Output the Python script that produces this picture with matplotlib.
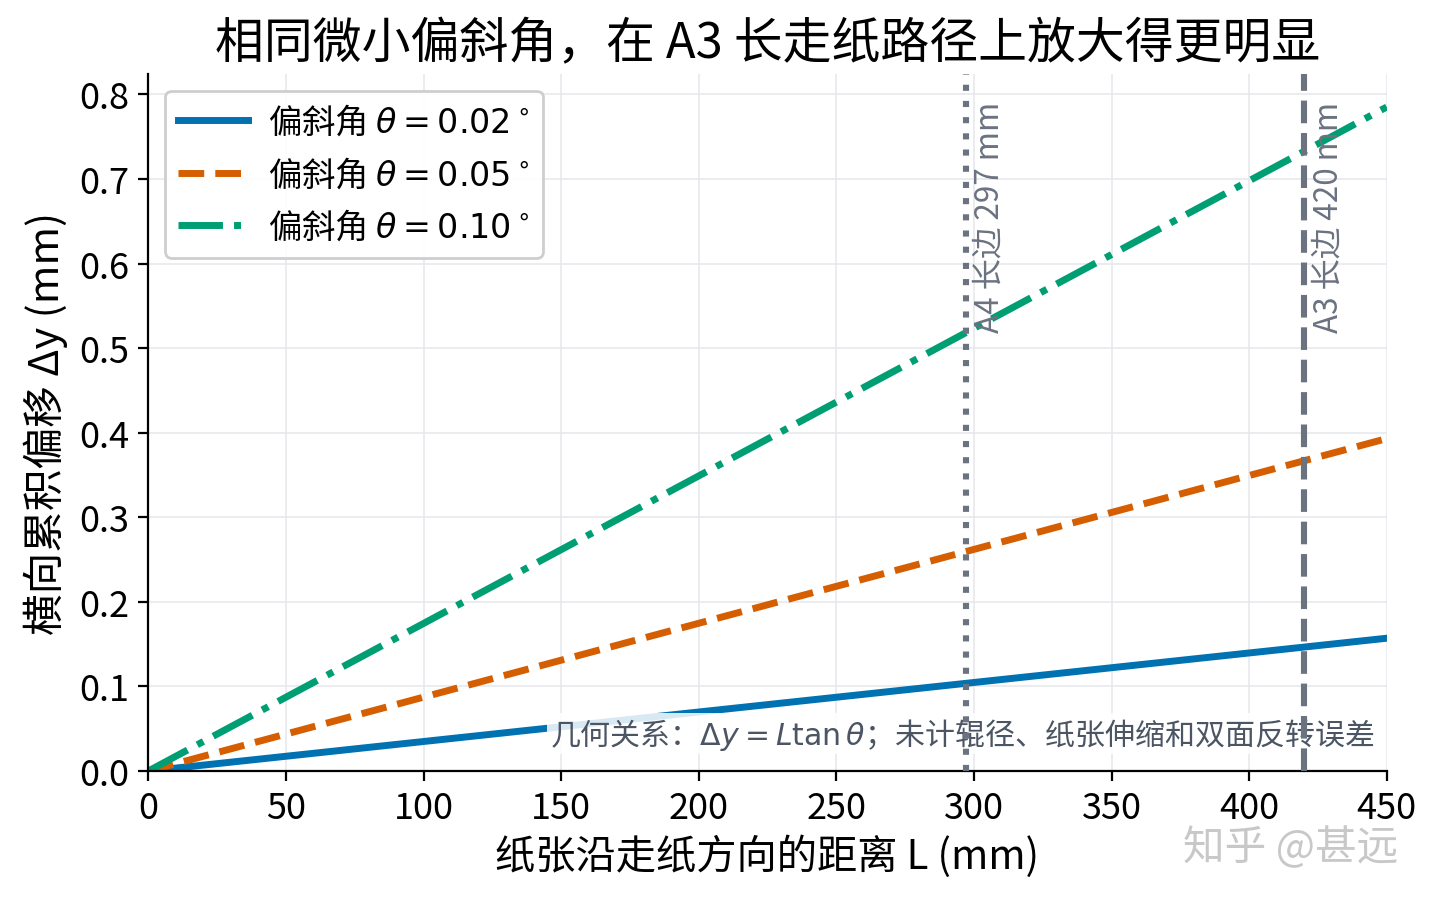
import matplotlib
matplotlib.use('Agg')
import matplotlib.pyplot as plt

# 走纸距离 L (mm) 及各偏斜角下读出的横向偏移 (mm)
L = [0, 450]
dy_002 = [0, 0.157]
dy_005 = [0, 0.393]
dy_010 = [0, 0.785]
labels = [r'偏斜角 $\theta = 0.02^\circ$', r'偏斜角 $\theta = 0.05^\circ$', r'偏斜角 $\theta = 0.10^\circ$']
paper_marks = [297, 420]
paper_names = ['A4 长边 297 mm', 'A3 长边 420 mm']

plt.rcParams['font.family'] = ['Noto Sans CJK SC', 'DejaVu Sans']
plt.rcParams['axes.unicode_minus'] = False

fig, ax = plt.subplots(figsize=(7.2, 4.52), dpi=200)
fig.subplots_adjust(left=0.103, right=0.963, top=0.917, bottom=0.146)

ax.plot(L, dy_002, color='#0072B2', lw=2.5, ls='-', label=labels[0])
ax.plot(L, dy_005, color='#D55E00', lw=2.5, ls='--', label=labels[1])
ax.plot(L, dy_010, color='#009E73', lw=2.5, ls='-.', label=labels[2])

ax.axvline(paper_marks[0], color='#6b7280', lw=2.2, ls=':', zorder=4)
ax.axvline(paper_marks[1], color='#6b7280', lw=2.2, ls='--', zorder=4)
for x, name in zip(paper_marks, paper_names):
    ax.text(x + 3, 0.792, name, rotation=90, va='top', ha='left',
            fontsize=11.3, color='#6b7280')

ax.text(0.99, 0.028, '几何关系：$\\Delta y = L\\tan\\theta$；未计辊径、纸张伸缩和双面反转误差',
        transform=ax.transAxes, ha='right', va='bottom', fontsize=10.8, color='#4b5563',
        bbox=dict(facecolor='white', edgecolor='none', alpha=0.85, pad=1), zorder=3)

ax.set_xlim(0, 450)
ax.set_ylim(0, 0.824)
ax.set_xlabel('纸张沿走纸方向的距离 L (mm)', fontsize=14.5, labelpad=3)
ax.set_ylabel('横向累积偏移 Δy (mm)', fontsize=15, labelpad=4)
ax.set_title('相同微小偏斜角，在 A3 长走纸路径上放大得更明显', fontsize=17.6, pad=6)
ax.tick_params(labelsize=13)
ax.grid(True, color='#e5e7eb', lw=0.6, alpha=0.9)
ax.spines['top'].set_visible(False)
ax.spines['right'].set_visible(False)
ax.legend(loc='upper left', fontsize=12, framealpha=0.95, handlelength=2.1,
          handletextpad=0.6)

fig.text(0.896, 0.062, '知乎 @甚远', fontsize=15, color='#c8c8c8', ha='center', va='center')

fig.savefig('out.png', dpi=200)
